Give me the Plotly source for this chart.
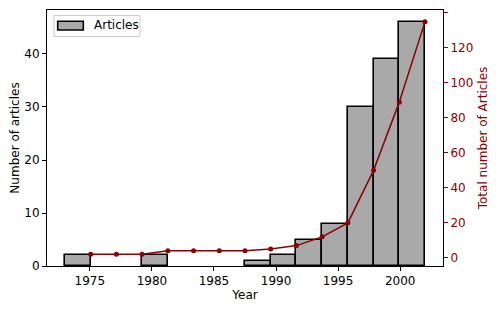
import numpy as np
import plotly.graph_objects as go

# Data
year_start = 1973
year_end = 2002
counts = [2, 0, 0, 2, 0, 0, 0, 1, 2, 5, 8, 30, 39, 46]
x_ticks = [1975, 1980, 1985, 1990, 1995, 2000]
left_ticks = [0, 10, 20, 30, 40]
right_ticks = [0, 20, 40, 60, 80, 100, 120, 140]

edges = np.linspace(year_start, year_end, len(counts) + 1)
centers = (edges[:-1] + edges[1:]) / 2
widths = np.diff(edges)
cumulative = np.cumsum(counts)
counts_arr = np.array(counts)
nz = counts_arr > 0

FONT = "DejaVu Sans"
DARKRED = "#8b0000"

fig = go.Figure()
fig.add_trace(go.Bar(
    x=centers[nz], y=counts_arr[nz], width=widths[nz], name="Articles",
    marker=dict(color="#a9a9a9", line=dict(color="black", width=1.6)),
    showlegend=False,
))
fig.add_trace(go.Scatter(
    x=edges[1:], y=cumulative, yaxis="y2", mode="lines+markers",
    line=dict(color=DARKRED, width=1.5), marker=dict(color=DARKRED, size=5),
    showlegend=False,
))

# Manual legend (box, patch, label) in paper coordinates
fig.add_shape(type="rect", xref="paper", yref="paper",
              x0=0.0177, x1=0.2348, y0=0.8965, y1=0.9785,
              line=dict(color="#cccccc", width=1), fillcolor="white", layer="above")
fig.add_shape(type="rect", xref="paper", yref="paper",
              x0=0.027, x1=0.0917, y0=0.9219, y1=0.9559,
              line=dict(color="black", width=1.6), fillcolor="#a9a9a9", layer="above")
fig.add_annotation(xref="paper", yref="paper", x=0.1124, y=0.9395,
                   xanchor="left", yanchor="middle", showarrow=False,
                   text="Articles", font=dict(size=12, color="black"))

span = year_end - year_start
# page body has an 8px margin: compensate so the plot area lands where intended
fig.update_layout(
    width=491, height=303,
    margin=dict(l=39, r=56, t=2, b=45, autoexpand=False),
    plot_bgcolor="white", paper_bgcolor="white",
    font=dict(family=FONT, size=12, color="black"),
    bargap=0,
    showlegend=False,
    xaxis=dict(
        range=[year_start - 0.05 * span, year_end + 0.05 * span],
        tickvals=x_ticks, ticks="outside", ticklen=4, tickwidth=1, tickcolor="black",
        showgrid=False, zeroline=False, showline=True, linecolor="black", linewidth=1,
        mirror=True, automargin=False,
        title=dict(text="Year", font=dict(size=12), standoff=3),
    ),
    yaxis=dict(
        range=[0, max(counts) * 1.05],
        tickvals=left_ticks, ticks="outside", ticklen=4, tickwidth=1, tickcolor="black",
        showgrid=False, zeroline=False, showline=True, linecolor="black", linewidth=1,
        automargin=False,
        title=dict(text="Number of articles", font=dict(size=12), standoff=8),
    ),
    yaxis2=dict(
        overlaying="y", side="right",
        range=[cumulative.min() - 0.05 * (cumulative.max() - cumulative.min()),
               cumulative.max() + 0.05 * (cumulative.max() - cumulative.min())],
        tickvals=right_ticks, ticks="outside", ticklen=4, tickwidth=1, tickcolor=DARKRED,
        tickfont=dict(color=DARKRED, size=12),
        showgrid=False, zeroline=False, showline=True, linecolor="black", linewidth=1,
        automargin=False,
        title=dict(text="Total number of Articles", font=dict(color=DARKRED, size=12), standoff=6),
    ),
)

fig.write_html("out.html")
